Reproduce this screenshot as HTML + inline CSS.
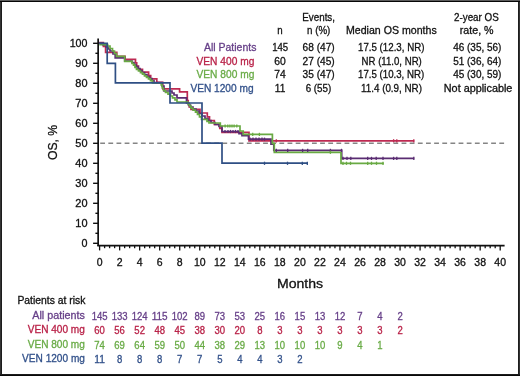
<!DOCTYPE html>
<html><head><meta charset="utf-8"><style>
html,body{margin:0;padding:0;background:#fff;}
#w{position:relative;width:520px;height:376px;overflow:hidden;background:#fff;}
#w svg{position:absolute;left:0;top:0;will-change:transform;}
#w text{font-family:"Liberation Sans", sans-serif;}
</style></head><body><div id="w">
<svg width="520" height="376" viewBox="0 0 520 376">
<text x="302.30" y="20.60" font-size="10.5" fill="#111111" stroke="#111111" stroke-width="0.3" text-anchor="start" textLength="32.70" lengthAdjust="spacingAndGlyphs">Events,</text>
<text x="454.00" y="20.60" font-size="10.5" fill="#111111" stroke="#111111" stroke-width="0.3" text-anchor="start" textLength="44.80" lengthAdjust="spacingAndGlyphs">2-year OS</text>
<text x="277.30" y="34.00" font-size="10.5" fill="#111111" stroke="#111111" stroke-width="0.3" text-anchor="start" textLength="5.40" lengthAdjust="spacingAndGlyphs">n</text>
<text x="307.00" y="34.00" font-size="10.5" fill="#111111" stroke="#111111" stroke-width="0.3" text-anchor="start" textLength="23.30" lengthAdjust="spacingAndGlyphs">n (%)</text>
<text x="346.00" y="34.00" font-size="10.5" fill="#111111" stroke="#111111" stroke-width="0.3" text-anchor="start" textLength="90.70" lengthAdjust="spacingAndGlyphs">Median OS months</text>
<text x="459.80" y="33.80" font-size="10.5" fill="#111111" stroke="#111111" stroke-width="0.3" text-anchor="start" textLength="33.80" lengthAdjust="spacingAndGlyphs">rate, %</text>
<text x="204.00" y="51.30" font-size="10.5" fill="#663f88" stroke="#663f88" stroke-width="0.3" text-anchor="start" textLength="52.40" lengthAdjust="spacingAndGlyphs">All Patients</text>
<text x="196.50" y="64.80" font-size="10.5" fill="#b92248" stroke="#b92248" stroke-width="0.3" text-anchor="start" textLength="57.80" lengthAdjust="spacingAndGlyphs">VEN 400 mg</text>
<text x="196.50" y="78.40" font-size="10.5" fill="#69ab46" stroke="#69ab46" stroke-width="0.3" text-anchor="start" textLength="57.80" lengthAdjust="spacingAndGlyphs">VEN 800 mg</text>
<text x="190.40" y="91.90" font-size="10.5" fill="#32518a" stroke="#32518a" stroke-width="0.3" text-anchor="start" textLength="63.20" lengthAdjust="spacingAndGlyphs">VEN 1200 mg</text>
<text x="272.20" y="51.30" font-size="10.5" fill="#111111" stroke="#111111" stroke-width="0.3" text-anchor="start" textLength="16.00" lengthAdjust="spacingAndGlyphs">145</text>
<text x="274.30" y="64.80" font-size="10.5" fill="#111111" stroke="#111111" stroke-width="0.3" text-anchor="start" textLength="11.50" lengthAdjust="spacingAndGlyphs">60</text>
<text x="274.30" y="78.40" font-size="10.5" fill="#111111" stroke="#111111" stroke-width="0.3" text-anchor="start" textLength="11.50" lengthAdjust="spacingAndGlyphs">74</text>
<text x="274.80" y="91.90" font-size="10.5" fill="#111111" stroke="#111111" stroke-width="0.3" text-anchor="start" textLength="10.50" lengthAdjust="spacingAndGlyphs">11</text>
<text x="302.60" y="51.30" font-size="10.5" fill="#111111" stroke="#111111" stroke-width="0.3" text-anchor="start" textLength="32.10" lengthAdjust="spacingAndGlyphs">68 (47)</text>
<text x="302.60" y="64.80" font-size="10.5" fill="#111111" stroke="#111111" stroke-width="0.3" text-anchor="start" textLength="32.10" lengthAdjust="spacingAndGlyphs">27 (45)</text>
<text x="302.60" y="78.40" font-size="10.5" fill="#111111" stroke="#111111" stroke-width="0.3" text-anchor="start" textLength="32.10" lengthAdjust="spacingAndGlyphs">35 (47)</text>
<text x="305.70" y="91.90" font-size="10.5" fill="#111111" stroke="#111111" stroke-width="0.3" text-anchor="start" textLength="25.60" lengthAdjust="spacingAndGlyphs">6 (55)</text>
<text x="358.00" y="51.30" font-size="10.5" fill="#111111" stroke="#111111" stroke-width="0.3" text-anchor="start" textLength="66.40" lengthAdjust="spacingAndGlyphs">17.5 (12.3, NR)</text>
<text x="361.60" y="64.80" font-size="10.5" fill="#111111" stroke="#111111" stroke-width="0.3" text-anchor="start" textLength="60.20" lengthAdjust="spacingAndGlyphs">NR (11.0, NR)</text>
<text x="358.00" y="78.40" font-size="10.5" fill="#111111" stroke="#111111" stroke-width="0.3" text-anchor="start" textLength="66.20" lengthAdjust="spacingAndGlyphs">17.5 (10.3, NR)</text>
<text x="361.00" y="91.90" font-size="10.5" fill="#111111" stroke="#111111" stroke-width="0.3" text-anchor="start" textLength="61.00" lengthAdjust="spacingAndGlyphs">11.4 (0.9, NR)</text>
<text x="453.20" y="51.30" font-size="10.5" fill="#111111" stroke="#111111" stroke-width="0.3" text-anchor="start" textLength="48.20" lengthAdjust="spacingAndGlyphs">46 (35, 56)</text>
<text x="453.20" y="64.80" font-size="10.5" fill="#111111" stroke="#111111" stroke-width="0.3" text-anchor="start" textLength="48.20" lengthAdjust="spacingAndGlyphs">51 (36, 64)</text>
<text x="453.20" y="78.40" font-size="10.5" fill="#111111" stroke="#111111" stroke-width="0.3" text-anchor="start" textLength="48.20" lengthAdjust="spacingAndGlyphs">45 (30, 59)</text>
<text x="443.80" y="91.90" font-size="10.5" fill="#111111" stroke="#111111" stroke-width="0.3" text-anchor="start" textLength="68.60" lengthAdjust="spacingAndGlyphs">Not applicable</text>
<line x1="98.15" y1="38.4" x2="98.15" y2="246.1" stroke="#111111" stroke-width="1.7"/>
<line x1="97.3" y1="245.6" x2="504.6" y2="245.6" stroke="#111111" stroke-width="1.7"/>
<line x1="93.1" y1="243.30" x2="98" y2="243.30" stroke="#111111" stroke-width="1.4"/>
<text x="81.50" y="246.70" font-size="10.5" fill="#111111" stroke="#111111" stroke-width="0.3" text-anchor="start" textLength="6.00" lengthAdjust="spacingAndGlyphs">0</text>
<line x1="95.4" y1="233.30" x2="98" y2="233.30" stroke="#111111" stroke-width="1.4"/>
<line x1="93.1" y1="223.30" x2="98" y2="223.30" stroke="#111111" stroke-width="1.4"/>
<text x="75.30" y="226.70" font-size="10.5" fill="#111111" stroke="#111111" stroke-width="0.3" text-anchor="start" textLength="12.20" lengthAdjust="spacingAndGlyphs">10</text>
<line x1="95.4" y1="213.30" x2="98" y2="213.30" stroke="#111111" stroke-width="1.4"/>
<line x1="93.1" y1="203.30" x2="98" y2="203.30" stroke="#111111" stroke-width="1.4"/>
<text x="75.30" y="206.70" font-size="10.5" fill="#111111" stroke="#111111" stroke-width="0.3" text-anchor="start" textLength="12.20" lengthAdjust="spacingAndGlyphs">20</text>
<line x1="95.4" y1="193.30" x2="98" y2="193.30" stroke="#111111" stroke-width="1.4"/>
<line x1="93.1" y1="183.30" x2="98" y2="183.30" stroke="#111111" stroke-width="1.4"/>
<text x="75.30" y="186.70" font-size="10.5" fill="#111111" stroke="#111111" stroke-width="0.3" text-anchor="start" textLength="12.20" lengthAdjust="spacingAndGlyphs">30</text>
<line x1="95.4" y1="173.30" x2="98" y2="173.30" stroke="#111111" stroke-width="1.4"/>
<line x1="93.1" y1="163.30" x2="98" y2="163.30" stroke="#111111" stroke-width="1.4"/>
<text x="75.30" y="166.70" font-size="10.5" fill="#111111" stroke="#111111" stroke-width="0.3" text-anchor="start" textLength="12.20" lengthAdjust="spacingAndGlyphs">40</text>
<line x1="95.4" y1="153.30" x2="98" y2="153.30" stroke="#111111" stroke-width="1.4"/>
<line x1="93.1" y1="143.30" x2="98" y2="143.30" stroke="#111111" stroke-width="1.4"/>
<text x="75.30" y="146.70" font-size="10.5" fill="#111111" stroke="#111111" stroke-width="0.3" text-anchor="start" textLength="12.20" lengthAdjust="spacingAndGlyphs">50</text>
<line x1="95.4" y1="133.30" x2="98" y2="133.30" stroke="#111111" stroke-width="1.4"/>
<line x1="93.1" y1="123.30" x2="98" y2="123.30" stroke="#111111" stroke-width="1.4"/>
<text x="75.30" y="126.70" font-size="10.5" fill="#111111" stroke="#111111" stroke-width="0.3" text-anchor="start" textLength="12.20" lengthAdjust="spacingAndGlyphs">60</text>
<line x1="95.4" y1="113.30" x2="98" y2="113.30" stroke="#111111" stroke-width="1.4"/>
<line x1="93.1" y1="103.30" x2="98" y2="103.30" stroke="#111111" stroke-width="1.4"/>
<text x="75.30" y="106.70" font-size="10.5" fill="#111111" stroke="#111111" stroke-width="0.3" text-anchor="start" textLength="12.20" lengthAdjust="spacingAndGlyphs">70</text>
<line x1="95.4" y1="93.30" x2="98" y2="93.30" stroke="#111111" stroke-width="1.4"/>
<line x1="93.1" y1="83.30" x2="98" y2="83.30" stroke="#111111" stroke-width="1.4"/>
<text x="75.30" y="86.70" font-size="10.5" fill="#111111" stroke="#111111" stroke-width="0.3" text-anchor="start" textLength="12.20" lengthAdjust="spacingAndGlyphs">80</text>
<line x1="95.4" y1="73.30" x2="98" y2="73.30" stroke="#111111" stroke-width="1.4"/>
<line x1="93.1" y1="63.30" x2="98" y2="63.30" stroke="#111111" stroke-width="1.4"/>
<text x="75.30" y="66.70" font-size="10.5" fill="#111111" stroke="#111111" stroke-width="0.3" text-anchor="start" textLength="12.20" lengthAdjust="spacingAndGlyphs">90</text>
<line x1="95.4" y1="53.30" x2="98" y2="53.30" stroke="#111111" stroke-width="1.4"/>
<line x1="93.1" y1="43.30" x2="98" y2="43.30" stroke="#111111" stroke-width="1.4"/>
<text x="69.70" y="46.70" font-size="10.5" fill="#111111" stroke="#111111" stroke-width="0.3" text-anchor="start" textLength="17.80" lengthAdjust="spacingAndGlyphs">100</text>
<line x1="99.60" y1="245" x2="99.60" y2="250.4" stroke="#111111" stroke-width="1.3"/>
<text x="99.60" y="265.90" font-size="10.5" fill="#111111" stroke="#111111" stroke-width="0.3" text-anchor="middle">0</text>
<line x1="104.61" y1="245" x2="104.61" y2="248.2" stroke="#111111" stroke-width="1.3"/>
<line x1="109.61" y1="245" x2="109.61" y2="248.2" stroke="#111111" stroke-width="1.3"/>
<line x1="114.62" y1="245" x2="114.62" y2="248.2" stroke="#111111" stroke-width="1.3"/>
<line x1="119.63" y1="245" x2="119.63" y2="250.4" stroke="#111111" stroke-width="1.3"/>
<text x="119.63" y="265.90" font-size="10.5" fill="#111111" stroke="#111111" stroke-width="0.3" text-anchor="middle">2</text>
<line x1="124.64" y1="245" x2="124.64" y2="248.2" stroke="#111111" stroke-width="1.3"/>
<line x1="129.64" y1="245" x2="129.64" y2="248.2" stroke="#111111" stroke-width="1.3"/>
<line x1="134.65" y1="245" x2="134.65" y2="248.2" stroke="#111111" stroke-width="1.3"/>
<line x1="139.66" y1="245" x2="139.66" y2="250.4" stroke="#111111" stroke-width="1.3"/>
<text x="139.66" y="265.90" font-size="10.5" fill="#111111" stroke="#111111" stroke-width="0.3" text-anchor="middle">4</text>
<line x1="144.67" y1="245" x2="144.67" y2="248.2" stroke="#111111" stroke-width="1.3"/>
<line x1="149.68" y1="245" x2="149.68" y2="248.2" stroke="#111111" stroke-width="1.3"/>
<line x1="154.68" y1="245" x2="154.68" y2="248.2" stroke="#111111" stroke-width="1.3"/>
<line x1="159.69" y1="245" x2="159.69" y2="250.4" stroke="#111111" stroke-width="1.3"/>
<text x="159.69" y="265.90" font-size="10.5" fill="#111111" stroke="#111111" stroke-width="0.3" text-anchor="middle">6</text>
<line x1="164.70" y1="245" x2="164.70" y2="248.2" stroke="#111111" stroke-width="1.3"/>
<line x1="169.70" y1="245" x2="169.70" y2="248.2" stroke="#111111" stroke-width="1.3"/>
<line x1="174.71" y1="245" x2="174.71" y2="248.2" stroke="#111111" stroke-width="1.3"/>
<line x1="179.72" y1="245" x2="179.72" y2="250.4" stroke="#111111" stroke-width="1.3"/>
<text x="179.72" y="265.90" font-size="10.5" fill="#111111" stroke="#111111" stroke-width="0.3" text-anchor="middle">8</text>
<line x1="184.73" y1="245" x2="184.73" y2="248.2" stroke="#111111" stroke-width="1.3"/>
<line x1="189.74" y1="245" x2="189.74" y2="248.2" stroke="#111111" stroke-width="1.3"/>
<line x1="194.74" y1="245" x2="194.74" y2="248.2" stroke="#111111" stroke-width="1.3"/>
<line x1="199.75" y1="245" x2="199.75" y2="250.4" stroke="#111111" stroke-width="1.3"/>
<text x="199.75" y="265.90" font-size="10.5" fill="#111111" stroke="#111111" stroke-width="0.3" text-anchor="middle">10</text>
<line x1="204.76" y1="245" x2="204.76" y2="248.2" stroke="#111111" stroke-width="1.3"/>
<line x1="209.76" y1="245" x2="209.76" y2="248.2" stroke="#111111" stroke-width="1.3"/>
<line x1="214.77" y1="245" x2="214.77" y2="248.2" stroke="#111111" stroke-width="1.3"/>
<line x1="219.78" y1="245" x2="219.78" y2="250.4" stroke="#111111" stroke-width="1.3"/>
<text x="219.78" y="265.90" font-size="10.5" fill="#111111" stroke="#111111" stroke-width="0.3" text-anchor="middle">12</text>
<line x1="224.79" y1="245" x2="224.79" y2="248.2" stroke="#111111" stroke-width="1.3"/>
<line x1="229.79" y1="245" x2="229.79" y2="248.2" stroke="#111111" stroke-width="1.3"/>
<line x1="234.80" y1="245" x2="234.80" y2="248.2" stroke="#111111" stroke-width="1.3"/>
<line x1="239.81" y1="245" x2="239.81" y2="250.4" stroke="#111111" stroke-width="1.3"/>
<text x="239.81" y="265.90" font-size="10.5" fill="#111111" stroke="#111111" stroke-width="0.3" text-anchor="middle">14</text>
<line x1="244.82" y1="245" x2="244.82" y2="248.2" stroke="#111111" stroke-width="1.3"/>
<line x1="249.83" y1="245" x2="249.83" y2="248.2" stroke="#111111" stroke-width="1.3"/>
<line x1="254.83" y1="245" x2="254.83" y2="248.2" stroke="#111111" stroke-width="1.3"/>
<line x1="259.84" y1="245" x2="259.84" y2="250.4" stroke="#111111" stroke-width="1.3"/>
<text x="259.84" y="265.90" font-size="10.5" fill="#111111" stroke="#111111" stroke-width="0.3" text-anchor="middle">16</text>
<line x1="264.85" y1="245" x2="264.85" y2="248.2" stroke="#111111" stroke-width="1.3"/>
<line x1="269.86" y1="245" x2="269.86" y2="248.2" stroke="#111111" stroke-width="1.3"/>
<line x1="274.86" y1="245" x2="274.86" y2="248.2" stroke="#111111" stroke-width="1.3"/>
<line x1="279.87" y1="245" x2="279.87" y2="250.4" stroke="#111111" stroke-width="1.3"/>
<text x="279.87" y="265.90" font-size="10.5" fill="#111111" stroke="#111111" stroke-width="0.3" text-anchor="middle">18</text>
<line x1="284.88" y1="245" x2="284.88" y2="248.2" stroke="#111111" stroke-width="1.3"/>
<line x1="289.88" y1="245" x2="289.88" y2="248.2" stroke="#111111" stroke-width="1.3"/>
<line x1="294.89" y1="245" x2="294.89" y2="248.2" stroke="#111111" stroke-width="1.3"/>
<line x1="299.90" y1="245" x2="299.90" y2="250.4" stroke="#111111" stroke-width="1.3"/>
<text x="299.90" y="265.90" font-size="10.5" fill="#111111" stroke="#111111" stroke-width="0.3" text-anchor="middle">20</text>
<line x1="304.91" y1="245" x2="304.91" y2="248.2" stroke="#111111" stroke-width="1.3"/>
<line x1="309.91" y1="245" x2="309.91" y2="248.2" stroke="#111111" stroke-width="1.3"/>
<line x1="314.92" y1="245" x2="314.92" y2="248.2" stroke="#111111" stroke-width="1.3"/>
<line x1="319.93" y1="245" x2="319.93" y2="250.4" stroke="#111111" stroke-width="1.3"/>
<text x="319.93" y="265.90" font-size="10.5" fill="#111111" stroke="#111111" stroke-width="0.3" text-anchor="middle">22</text>
<line x1="324.94" y1="245" x2="324.94" y2="248.2" stroke="#111111" stroke-width="1.3"/>
<line x1="329.95" y1="245" x2="329.95" y2="248.2" stroke="#111111" stroke-width="1.3"/>
<line x1="334.95" y1="245" x2="334.95" y2="248.2" stroke="#111111" stroke-width="1.3"/>
<line x1="339.96" y1="245" x2="339.96" y2="250.4" stroke="#111111" stroke-width="1.3"/>
<text x="339.96" y="265.90" font-size="10.5" fill="#111111" stroke="#111111" stroke-width="0.3" text-anchor="middle">24</text>
<line x1="344.97" y1="245" x2="344.97" y2="248.2" stroke="#111111" stroke-width="1.3"/>
<line x1="349.98" y1="245" x2="349.98" y2="248.2" stroke="#111111" stroke-width="1.3"/>
<line x1="354.98" y1="245" x2="354.98" y2="248.2" stroke="#111111" stroke-width="1.3"/>
<line x1="359.99" y1="245" x2="359.99" y2="250.4" stroke="#111111" stroke-width="1.3"/>
<text x="359.99" y="265.90" font-size="10.5" fill="#111111" stroke="#111111" stroke-width="0.3" text-anchor="middle">26</text>
<line x1="365.00" y1="245" x2="365.00" y2="248.2" stroke="#111111" stroke-width="1.3"/>
<line x1="370.00" y1="245" x2="370.00" y2="248.2" stroke="#111111" stroke-width="1.3"/>
<line x1="375.01" y1="245" x2="375.01" y2="248.2" stroke="#111111" stroke-width="1.3"/>
<line x1="380.02" y1="245" x2="380.02" y2="250.4" stroke="#111111" stroke-width="1.3"/>
<text x="380.02" y="265.90" font-size="10.5" fill="#111111" stroke="#111111" stroke-width="0.3" text-anchor="middle">28</text>
<line x1="385.03" y1="245" x2="385.03" y2="248.2" stroke="#111111" stroke-width="1.3"/>
<line x1="390.03" y1="245" x2="390.03" y2="248.2" stroke="#111111" stroke-width="1.3"/>
<line x1="395.04" y1="245" x2="395.04" y2="248.2" stroke="#111111" stroke-width="1.3"/>
<line x1="400.05" y1="245" x2="400.05" y2="250.4" stroke="#111111" stroke-width="1.3"/>
<text x="400.05" y="265.90" font-size="10.5" fill="#111111" stroke="#111111" stroke-width="0.3" text-anchor="middle">30</text>
<line x1="405.06" y1="245" x2="405.06" y2="248.2" stroke="#111111" stroke-width="1.3"/>
<line x1="410.07" y1="245" x2="410.07" y2="248.2" stroke="#111111" stroke-width="1.3"/>
<line x1="415.07" y1="245" x2="415.07" y2="248.2" stroke="#111111" stroke-width="1.3"/>
<line x1="420.08" y1="245" x2="420.08" y2="250.4" stroke="#111111" stroke-width="1.3"/>
<text x="420.08" y="265.90" font-size="10.5" fill="#111111" stroke="#111111" stroke-width="0.3" text-anchor="middle">32</text>
<line x1="425.09" y1="245" x2="425.09" y2="248.2" stroke="#111111" stroke-width="1.3"/>
<line x1="430.10" y1="245" x2="430.10" y2="248.2" stroke="#111111" stroke-width="1.3"/>
<line x1="435.10" y1="245" x2="435.10" y2="248.2" stroke="#111111" stroke-width="1.3"/>
<line x1="440.11" y1="245" x2="440.11" y2="250.4" stroke="#111111" stroke-width="1.3"/>
<text x="440.11" y="265.90" font-size="10.5" fill="#111111" stroke="#111111" stroke-width="0.3" text-anchor="middle">34</text>
<line x1="445.12" y1="245" x2="445.12" y2="248.2" stroke="#111111" stroke-width="1.3"/>
<line x1="450.12" y1="245" x2="450.12" y2="248.2" stroke="#111111" stroke-width="1.3"/>
<line x1="455.13" y1="245" x2="455.13" y2="248.2" stroke="#111111" stroke-width="1.3"/>
<line x1="460.14" y1="245" x2="460.14" y2="250.4" stroke="#111111" stroke-width="1.3"/>
<text x="460.14" y="265.90" font-size="10.5" fill="#111111" stroke="#111111" stroke-width="0.3" text-anchor="middle">36</text>
<line x1="465.15" y1="245" x2="465.15" y2="248.2" stroke="#111111" stroke-width="1.3"/>
<line x1="470.15" y1="245" x2="470.15" y2="248.2" stroke="#111111" stroke-width="1.3"/>
<line x1="475.16" y1="245" x2="475.16" y2="248.2" stroke="#111111" stroke-width="1.3"/>
<line x1="480.17" y1="245" x2="480.17" y2="250.4" stroke="#111111" stroke-width="1.3"/>
<text x="480.17" y="265.90" font-size="10.5" fill="#111111" stroke="#111111" stroke-width="0.3" text-anchor="middle">38</text>
<line x1="485.18" y1="245" x2="485.18" y2="248.2" stroke="#111111" stroke-width="1.3"/>
<line x1="490.19" y1="245" x2="490.19" y2="248.2" stroke="#111111" stroke-width="1.3"/>
<line x1="495.19" y1="245" x2="495.19" y2="248.2" stroke="#111111" stroke-width="1.3"/>
<line x1="500.20" y1="245" x2="500.20" y2="250.4" stroke="#111111" stroke-width="1.3"/>
<text x="500.20" y="265.90" font-size="10.5" fill="#111111" stroke="#111111" stroke-width="0.3" text-anchor="middle">40</text>
<text x="276.90" y="288.00" font-size="13.6" fill="#111111" stroke="#111111" stroke-width="0.3" text-anchor="start" textLength="46.20" lengthAdjust="spacingAndGlyphs">Months</text>
<text x="0" y="0" font-size="13.4" fill="#111111" stroke="#111111" stroke-width="0.3" textLength="35.2" lengthAdjust="spacingAndGlyphs" transform="translate(56.5 160.0) rotate(-90)">OS, %</text>
<line x1="100.2" y1="143.3" x2="505" y2="143.3" stroke="#858585" stroke-width="1.4" stroke-dasharray="4.8 3.345"/>
<path d="M99.20 42.50 L103.40 42.50 L103.40 46.30 L105.60 46.30 L105.60 52.40 L116.80 52.40 L116.80 56.40 L125.10 56.40 L125.10 59.30 L135.50 59.30 L135.50 62.80 L136.70 62.80 L136.70 66.00 L138.50 66.00 L138.50 69.30 L142.50 69.30 L142.50 72.10 L148.60 72.10 L148.60 75.60 L150.70 75.60 L150.70 78.90 L156.80 78.90 L156.80 82.40 L162.80 82.40 L162.80 88.80 L179.60 88.80 L179.60 91.80 L187.30 91.80 L187.30 100.50 L188.20 100.50 L188.20 103.50 L189.20 103.50 L189.20 107.00 L191.00 107.00 L191.00 109.40 L200.00 109.40 L200.00 113.00 L207.30 113.00 L207.30 116.80 L209.50 116.80 L209.50 120.50 L214.30 120.50 L214.30 124.40 L219.80 124.40 L219.80 128.30 L222.00 128.30 L222.00 132.30 L249.00 132.30 L249.00 140.80 L414.30 140.80 L414.30 140.80" fill="none" stroke="#bd2a52" stroke-width="1.7" stroke-linejoin="miter"/>
<path d="M99.20 43.00 L103.00 43.00 L103.00 45.00 L106.00 45.00 L106.00 47.00 L108.00 47.00 L108.00 49.00 L110.00 49.00 L110.00 51.00 L113.00 51.00 L113.00 54.00 L115.20 54.00 L115.20 57.90 L124.70 57.90 L124.70 61.00 L132.00 61.00 L132.00 62.50 L134.00 62.50 L134.00 64.50 L136.00 64.50 L136.00 66.50 L138.00 66.50 L138.00 68.50 L140.00 68.50 L140.00 70.50 L142.00 70.50 L142.00 72.50 L144.50 72.50 L144.50 74.50 L147.00 74.50 L147.00 76.50 L149.50 76.50 L149.50 78.50 L152.00 78.50 L152.00 80.50 L154.00 80.50 L154.00 82.60 L162.00 82.60 L162.00 86.00 L164.00 86.00 L164.00 91.00 L172.00 91.00 L172.00 93.00 L174.00 93.00 L174.00 95.00 L177.00 95.00 L177.00 97.90 L186.50 97.90 L186.50 103.00 L188.50 103.00 L188.50 105.00 L190.50 105.00 L190.50 107.00 L193.00 107.00 L193.00 109.00 L196.00 109.00 L196.00 111.00 L199.00 111.00 L199.00 113.50 L202.00 113.50 L202.00 116.00 L205.00 116.00 L205.00 118.50 L208.00 118.50 L208.00 120.50 L211.00 120.50 L211.00 122.50 L215.00 122.50 L215.00 124.50 L219.00 124.50 L219.00 126.50 L222.00 126.50 L222.00 131.50 L239.00 131.50 L239.00 133.60 L242.00 133.60 L242.00 135.70 L248.50 135.70 L248.50 139.20 L271.00 139.20 L271.00 144.20 L273.80 144.20 L273.80 150.40 L341.70 150.40 L341.70 158.40 L414.30 158.40 L414.30 158.40" fill="none" stroke="#5a2c72" stroke-width="1.7" stroke-linejoin="miter"/>
<path d="M99.20 44.60 L107.60 44.60 L107.60 46.00 L110.00 46.00 L110.00 48.50 L112.50 48.50 L112.50 51.00 L114.50 51.00 L114.50 53.50 L116.50 53.50 L116.50 56.40 L124.70 56.40 L124.70 61.40 L132.00 61.40 L132.00 63.50 L133.50 63.50 L133.50 65.20 L135.00 65.20 L135.00 67.50 L136.50 67.50 L136.50 69.50 L138.50 69.50 L138.50 71.00 L140.50 71.00 L140.50 72.60 L142.50 72.60 L142.50 74.20 L144.50 74.20 L144.50 75.80 L146.50 75.80 L146.50 77.40 L148.50 77.40 L148.50 78.90 L150.50 78.90 L150.50 80.60 L152.50 80.60 L152.50 82.80 L161.20 82.80 L161.20 85.00 L162.20 85.00 L162.20 88.00 L163.50 88.00 L163.50 90.50 L165.50 90.50 L165.50 92.50 L168.00 92.50 L168.00 94.20 L170.50 94.20 L170.50 96.00 L172.50 96.00 L172.50 97.80 L175.00 97.80 L175.00 99.80 L177.00 99.80 L177.00 102.00 L188.00 102.00 L188.00 104.00 L189.50 104.00 L189.50 106.00 L191.00 106.00 L191.00 108.20 L193.00 108.20 L193.00 110.20 L195.50 110.20 L195.50 112.20 L197.50 112.20 L197.50 114.50 L199.50 114.50 L199.50 116.80 L201.50 116.80 L201.50 119.30 L207.00 119.30 L207.00 121.50 L209.00 121.50 L209.00 123.00 L220.30 123.00 L220.30 126.00 L240.00 126.00 L240.00 131.00 L243.20 131.00 L243.20 134.40 L272.40 134.40 L272.40 143.30 L274.30 143.30 L274.30 152.30 L341.00 152.30 L341.00 163.30 L383.80 163.30 L383.80 163.30" fill="none" stroke="#69aa43" stroke-width="1.7" stroke-linejoin="miter"/>
<path d="M99.20 43.40 L107.20 43.40 L107.20 63.30 L115.40 63.30 L115.40 82.90 L170.00 82.90 L170.00 103.00 L202.00 103.00 L202.00 143.20 L222.00 143.20 L222.00 163.10 L308.00 163.10 L308.00 163.10" fill="none" stroke="#2f4f84" stroke-width="1.7" stroke-linejoin="miter"/>
<line x1="225.00" y1="129.90" x2="225.00" y2="133.10" stroke="#5a2c72" stroke-width="1.3"/>
<line x1="228.00" y1="129.90" x2="228.00" y2="133.10" stroke="#5a2c72" stroke-width="1.3"/>
<line x1="230.50" y1="129.90" x2="230.50" y2="133.10" stroke="#5a2c72" stroke-width="1.3"/>
<line x1="233.00" y1="129.90" x2="233.00" y2="133.10" stroke="#5a2c72" stroke-width="1.3"/>
<line x1="235.50" y1="129.90" x2="235.50" y2="133.10" stroke="#5a2c72" stroke-width="1.3"/>
<line x1="238.00" y1="129.90" x2="238.00" y2="133.10" stroke="#5a2c72" stroke-width="1.3"/>
<line x1="250.00" y1="137.60" x2="250.00" y2="140.80" stroke="#5a2c72" stroke-width="1.3"/>
<line x1="253.00" y1="137.60" x2="253.00" y2="140.80" stroke="#5a2c72" stroke-width="1.3"/>
<line x1="256.00" y1="137.60" x2="256.00" y2="140.80" stroke="#5a2c72" stroke-width="1.3"/>
<line x1="259.00" y1="137.60" x2="259.00" y2="140.80" stroke="#5a2c72" stroke-width="1.3"/>
<line x1="262.00" y1="137.60" x2="262.00" y2="140.80" stroke="#5a2c72" stroke-width="1.3"/>
<line x1="264.50" y1="137.60" x2="264.50" y2="140.80" stroke="#5a2c72" stroke-width="1.3"/>
<line x1="276.30" y1="148.80" x2="276.30" y2="152.00" stroke="#5a2c72" stroke-width="1.3"/>
<line x1="287.70" y1="148.80" x2="287.70" y2="152.00" stroke="#5a2c72" stroke-width="1.3"/>
<line x1="302.60" y1="148.80" x2="302.60" y2="152.00" stroke="#5a2c72" stroke-width="1.3"/>
<line x1="307.70" y1="148.80" x2="307.70" y2="152.00" stroke="#5a2c72" stroke-width="1.3"/>
<line x1="330.40" y1="148.80" x2="330.40" y2="152.00" stroke="#5a2c72" stroke-width="1.3"/>
<line x1="341.50" y1="148.80" x2="341.50" y2="152.00" stroke="#5a2c72" stroke-width="1.3"/>
<line x1="343.00" y1="156.80" x2="343.00" y2="160.00" stroke="#5a2c72" stroke-width="1.3"/>
<line x1="347.00" y1="156.80" x2="347.00" y2="160.00" stroke="#5a2c72" stroke-width="1.3"/>
<line x1="350.80" y1="156.80" x2="350.80" y2="160.00" stroke="#5a2c72" stroke-width="1.3"/>
<line x1="367.70" y1="156.80" x2="367.70" y2="160.00" stroke="#5a2c72" stroke-width="1.3"/>
<line x1="371.50" y1="156.80" x2="371.50" y2="160.00" stroke="#5a2c72" stroke-width="1.3"/>
<line x1="376.20" y1="156.80" x2="376.20" y2="160.00" stroke="#5a2c72" stroke-width="1.3"/>
<line x1="383.00" y1="156.80" x2="383.00" y2="160.00" stroke="#5a2c72" stroke-width="1.3"/>
<line x1="393.60" y1="156.80" x2="393.60" y2="160.00" stroke="#5a2c72" stroke-width="1.3"/>
<line x1="396.80" y1="156.80" x2="396.80" y2="160.00" stroke="#5a2c72" stroke-width="1.3"/>
<line x1="413.80" y1="156.80" x2="413.80" y2="160.00" stroke="#5a2c72" stroke-width="1.3"/>
<line x1="276.30" y1="139.20" x2="276.30" y2="142.40" stroke="#bd2a52" stroke-width="1.3"/>
<line x1="393.60" y1="139.20" x2="393.60" y2="142.40" stroke="#bd2a52" stroke-width="1.3"/>
<line x1="396.80" y1="139.20" x2="396.80" y2="142.40" stroke="#bd2a52" stroke-width="1.3"/>
<line x1="413.80" y1="139.20" x2="413.80" y2="142.40" stroke="#bd2a52" stroke-width="1.3"/>
<line x1="225.10" y1="124.40" x2="225.10" y2="127.60" stroke="#69aa43" stroke-width="1.3"/>
<line x1="227.80" y1="124.40" x2="227.80" y2="127.60" stroke="#69aa43" stroke-width="1.3"/>
<line x1="229.90" y1="124.40" x2="229.90" y2="127.60" stroke="#69aa43" stroke-width="1.3"/>
<line x1="232.00" y1="124.40" x2="232.00" y2="127.60" stroke="#69aa43" stroke-width="1.3"/>
<line x1="234.10" y1="124.40" x2="234.10" y2="127.60" stroke="#69aa43" stroke-width="1.3"/>
<line x1="236.80" y1="124.40" x2="236.80" y2="127.60" stroke="#69aa43" stroke-width="1.3"/>
<line x1="252.70" y1="132.80" x2="252.70" y2="136.00" stroke="#69aa43" stroke-width="1.3"/>
<line x1="259.40" y1="132.80" x2="259.40" y2="136.00" stroke="#69aa43" stroke-width="1.3"/>
<line x1="330.40" y1="150.70" x2="330.40" y2="153.90" stroke="#69aa43" stroke-width="1.3"/>
<line x1="343.00" y1="161.70" x2="343.00" y2="164.90" stroke="#69aa43" stroke-width="1.3"/>
<line x1="346.50" y1="161.70" x2="346.50" y2="164.90" stroke="#69aa43" stroke-width="1.3"/>
<line x1="350.50" y1="161.70" x2="350.50" y2="164.90" stroke="#69aa43" stroke-width="1.3"/>
<line x1="367.70" y1="161.70" x2="367.70" y2="164.90" stroke="#69aa43" stroke-width="1.3"/>
<line x1="371.50" y1="161.70" x2="371.50" y2="164.90" stroke="#69aa43" stroke-width="1.3"/>
<line x1="376.50" y1="161.70" x2="376.50" y2="164.90" stroke="#69aa43" stroke-width="1.3"/>
<line x1="383.00" y1="161.70" x2="383.00" y2="164.90" stroke="#69aa43" stroke-width="1.3"/>
<line x1="264.50" y1="161.70" x2="264.50" y2="164.90" stroke="#2f4f84" stroke-width="1.3"/>
<line x1="287.50" y1="161.70" x2="287.50" y2="164.90" stroke="#2f4f84" stroke-width="1.3"/>
<line x1="302.30" y1="161.70" x2="302.30" y2="164.90" stroke="#2f4f84" stroke-width="1.3"/>
<line x1="307.30" y1="161.70" x2="307.30" y2="164.90" stroke="#2f4f84" stroke-width="1.3"/>
<text x="17.40" y="303.90" font-size="10.5" fill="#111111" stroke="#111111" stroke-width="0.3" text-anchor="start" textLength="68.10" lengthAdjust="spacingAndGlyphs">Patients at risk</text>
<text x="32.30" y="319.00" font-size="10.5" fill="#663f88" stroke="#663f88" stroke-width="0.3" text-anchor="start" textLength="52.60" lengthAdjust="spacingAndGlyphs">All patients</text>
<text x="27.70" y="333.30" font-size="10.5" fill="#b92248" stroke="#b92248" stroke-width="0.3" text-anchor="start" textLength="57.20" lengthAdjust="spacingAndGlyphs">VEN 400 mg</text>
<text x="27.70" y="347.60" font-size="10.5" fill="#69ab46" stroke="#69ab46" stroke-width="0.3" text-anchor="start" textLength="57.20" lengthAdjust="spacingAndGlyphs">VEN 800 mg</text>
<text x="22.10" y="362.00" font-size="10.5" fill="#32518a" stroke="#32518a" stroke-width="0.3" text-anchor="start" textLength="62.80" lengthAdjust="spacingAndGlyphs">VEN 1200 mg</text>
<text x="91.65" y="319.60" font-size="10.2" fill="#663f88" stroke="#663f88" stroke-width="0.3" text-anchor="start" textLength="15.90" lengthAdjust="spacingAndGlyphs">145</text>
<text x="111.68" y="319.60" font-size="10.2" fill="#663f88" stroke="#663f88" stroke-width="0.3" text-anchor="start" textLength="15.90" lengthAdjust="spacingAndGlyphs">133</text>
<text x="131.71" y="319.60" font-size="10.2" fill="#663f88" stroke="#663f88" stroke-width="0.3" text-anchor="start" textLength="15.90" lengthAdjust="spacingAndGlyphs">124</text>
<text x="151.74" y="319.60" font-size="10.2" fill="#663f88" stroke="#663f88" stroke-width="0.3" text-anchor="start" textLength="15.90" lengthAdjust="spacingAndGlyphs">115</text>
<text x="171.77" y="319.60" font-size="10.2" fill="#663f88" stroke="#663f88" stroke-width="0.3" text-anchor="start" textLength="15.90" lengthAdjust="spacingAndGlyphs">102</text>
<text x="194.45" y="319.60" font-size="10.2" fill="#663f88" stroke="#663f88" stroke-width="0.3" text-anchor="start" textLength="10.60" lengthAdjust="spacingAndGlyphs">89</text>
<text x="214.48" y="319.60" font-size="10.2" fill="#663f88" stroke="#663f88" stroke-width="0.3" text-anchor="start" textLength="10.60" lengthAdjust="spacingAndGlyphs">73</text>
<text x="234.51" y="319.60" font-size="10.2" fill="#663f88" stroke="#663f88" stroke-width="0.3" text-anchor="start" textLength="10.60" lengthAdjust="spacingAndGlyphs">53</text>
<text x="254.54" y="319.60" font-size="10.2" fill="#663f88" stroke="#663f88" stroke-width="0.3" text-anchor="start" textLength="10.60" lengthAdjust="spacingAndGlyphs">25</text>
<text x="274.57" y="319.60" font-size="10.2" fill="#663f88" stroke="#663f88" stroke-width="0.3" text-anchor="start" textLength="10.60" lengthAdjust="spacingAndGlyphs">16</text>
<text x="294.60" y="319.60" font-size="10.2" fill="#663f88" stroke="#663f88" stroke-width="0.3" text-anchor="start" textLength="10.60" lengthAdjust="spacingAndGlyphs">15</text>
<text x="314.63" y="319.60" font-size="10.2" fill="#663f88" stroke="#663f88" stroke-width="0.3" text-anchor="start" textLength="10.60" lengthAdjust="spacingAndGlyphs">13</text>
<text x="334.66" y="319.60" font-size="10.2" fill="#663f88" stroke="#663f88" stroke-width="0.3" text-anchor="start" textLength="10.60" lengthAdjust="spacingAndGlyphs">12</text>
<text x="357.34" y="319.60" font-size="10.2" fill="#663f88" stroke="#663f88" stroke-width="0.3" text-anchor="start" textLength="5.30" lengthAdjust="spacingAndGlyphs">7</text>
<text x="377.37" y="319.60" font-size="10.2" fill="#663f88" stroke="#663f88" stroke-width="0.3" text-anchor="start" textLength="5.30" lengthAdjust="spacingAndGlyphs">4</text>
<text x="397.40" y="319.60" font-size="10.2" fill="#663f88" stroke="#663f88" stroke-width="0.3" text-anchor="start" textLength="5.30" lengthAdjust="spacingAndGlyphs">2</text>
<text x="94.30" y="334.00" font-size="10.2" fill="#b92248" stroke="#b92248" stroke-width="0.3" text-anchor="start" textLength="10.60" lengthAdjust="spacingAndGlyphs">60</text>
<text x="114.33" y="334.00" font-size="10.2" fill="#b92248" stroke="#b92248" stroke-width="0.3" text-anchor="start" textLength="10.60" lengthAdjust="spacingAndGlyphs">56</text>
<text x="134.36" y="334.00" font-size="10.2" fill="#b92248" stroke="#b92248" stroke-width="0.3" text-anchor="start" textLength="10.60" lengthAdjust="spacingAndGlyphs">52</text>
<text x="154.39" y="334.00" font-size="10.2" fill="#b92248" stroke="#b92248" stroke-width="0.3" text-anchor="start" textLength="10.60" lengthAdjust="spacingAndGlyphs">48</text>
<text x="174.42" y="334.00" font-size="10.2" fill="#b92248" stroke="#b92248" stroke-width="0.3" text-anchor="start" textLength="10.60" lengthAdjust="spacingAndGlyphs">45</text>
<text x="194.45" y="334.00" font-size="10.2" fill="#b92248" stroke="#b92248" stroke-width="0.3" text-anchor="start" textLength="10.60" lengthAdjust="spacingAndGlyphs">38</text>
<text x="214.48" y="334.00" font-size="10.2" fill="#b92248" stroke="#b92248" stroke-width="0.3" text-anchor="start" textLength="10.60" lengthAdjust="spacingAndGlyphs">30</text>
<text x="234.51" y="334.00" font-size="10.2" fill="#b92248" stroke="#b92248" stroke-width="0.3" text-anchor="start" textLength="10.60" lengthAdjust="spacingAndGlyphs">20</text>
<text x="257.19" y="334.00" font-size="10.2" fill="#b92248" stroke="#b92248" stroke-width="0.3" text-anchor="start" textLength="5.30" lengthAdjust="spacingAndGlyphs">8</text>
<text x="277.22" y="334.00" font-size="10.2" fill="#b92248" stroke="#b92248" stroke-width="0.3" text-anchor="start" textLength="5.30" lengthAdjust="spacingAndGlyphs">3</text>
<text x="297.25" y="334.00" font-size="10.2" fill="#b92248" stroke="#b92248" stroke-width="0.3" text-anchor="start" textLength="5.30" lengthAdjust="spacingAndGlyphs">3</text>
<text x="317.28" y="334.00" font-size="10.2" fill="#b92248" stroke="#b92248" stroke-width="0.3" text-anchor="start" textLength="5.30" lengthAdjust="spacingAndGlyphs">3</text>
<text x="337.31" y="334.00" font-size="10.2" fill="#b92248" stroke="#b92248" stroke-width="0.3" text-anchor="start" textLength="5.30" lengthAdjust="spacingAndGlyphs">3</text>
<text x="357.34" y="334.00" font-size="10.2" fill="#b92248" stroke="#b92248" stroke-width="0.3" text-anchor="start" textLength="5.30" lengthAdjust="spacingAndGlyphs">3</text>
<text x="377.37" y="334.00" font-size="10.2" fill="#b92248" stroke="#b92248" stroke-width="0.3" text-anchor="start" textLength="5.30" lengthAdjust="spacingAndGlyphs">3</text>
<text x="397.40" y="334.00" font-size="10.2" fill="#b92248" stroke="#b92248" stroke-width="0.3" text-anchor="start" textLength="5.30" lengthAdjust="spacingAndGlyphs">2</text>
<text x="94.30" y="348.50" font-size="10.2" fill="#69ab46" stroke="#69ab46" stroke-width="0.3" text-anchor="start" textLength="10.60" lengthAdjust="spacingAndGlyphs">74</text>
<text x="114.33" y="348.50" font-size="10.2" fill="#69ab46" stroke="#69ab46" stroke-width="0.3" text-anchor="start" textLength="10.60" lengthAdjust="spacingAndGlyphs">69</text>
<text x="134.36" y="348.50" font-size="10.2" fill="#69ab46" stroke="#69ab46" stroke-width="0.3" text-anchor="start" textLength="10.60" lengthAdjust="spacingAndGlyphs">64</text>
<text x="154.39" y="348.50" font-size="10.2" fill="#69ab46" stroke="#69ab46" stroke-width="0.3" text-anchor="start" textLength="10.60" lengthAdjust="spacingAndGlyphs">59</text>
<text x="174.42" y="348.50" font-size="10.2" fill="#69ab46" stroke="#69ab46" stroke-width="0.3" text-anchor="start" textLength="10.60" lengthAdjust="spacingAndGlyphs">50</text>
<text x="194.45" y="348.50" font-size="10.2" fill="#69ab46" stroke="#69ab46" stroke-width="0.3" text-anchor="start" textLength="10.60" lengthAdjust="spacingAndGlyphs">44</text>
<text x="214.48" y="348.50" font-size="10.2" fill="#69ab46" stroke="#69ab46" stroke-width="0.3" text-anchor="start" textLength="10.60" lengthAdjust="spacingAndGlyphs">38</text>
<text x="234.51" y="348.50" font-size="10.2" fill="#69ab46" stroke="#69ab46" stroke-width="0.3" text-anchor="start" textLength="10.60" lengthAdjust="spacingAndGlyphs">29</text>
<text x="254.54" y="348.50" font-size="10.2" fill="#69ab46" stroke="#69ab46" stroke-width="0.3" text-anchor="start" textLength="10.60" lengthAdjust="spacingAndGlyphs">13</text>
<text x="274.57" y="348.50" font-size="10.2" fill="#69ab46" stroke="#69ab46" stroke-width="0.3" text-anchor="start" textLength="10.60" lengthAdjust="spacingAndGlyphs">10</text>
<text x="294.60" y="348.50" font-size="10.2" fill="#69ab46" stroke="#69ab46" stroke-width="0.3" text-anchor="start" textLength="10.60" lengthAdjust="spacingAndGlyphs">10</text>
<text x="314.63" y="348.50" font-size="10.2" fill="#69ab46" stroke="#69ab46" stroke-width="0.3" text-anchor="start" textLength="10.60" lengthAdjust="spacingAndGlyphs">10</text>
<text x="337.31" y="348.50" font-size="10.2" fill="#69ab46" stroke="#69ab46" stroke-width="0.3" text-anchor="start" textLength="5.30" lengthAdjust="spacingAndGlyphs">9</text>
<text x="357.34" y="348.50" font-size="10.2" fill="#69ab46" stroke="#69ab46" stroke-width="0.3" text-anchor="start" textLength="5.30" lengthAdjust="spacingAndGlyphs">4</text>
<text x="377.37" y="348.50" font-size="10.2" fill="#69ab46" stroke="#69ab46" stroke-width="0.3" text-anchor="start" textLength="5.30" lengthAdjust="spacingAndGlyphs">1</text>
<text x="94.30" y="363.00" font-size="10.2" fill="#32518a" stroke="#32518a" stroke-width="0.3" text-anchor="start" textLength="10.60" lengthAdjust="spacingAndGlyphs">11</text>
<text x="116.98" y="363.00" font-size="10.2" fill="#32518a" stroke="#32518a" stroke-width="0.3" text-anchor="start" textLength="5.30" lengthAdjust="spacingAndGlyphs">8</text>
<text x="137.01" y="363.00" font-size="10.2" fill="#32518a" stroke="#32518a" stroke-width="0.3" text-anchor="start" textLength="5.30" lengthAdjust="spacingAndGlyphs">8</text>
<text x="157.04" y="363.00" font-size="10.2" fill="#32518a" stroke="#32518a" stroke-width="0.3" text-anchor="start" textLength="5.30" lengthAdjust="spacingAndGlyphs">8</text>
<text x="177.07" y="363.00" font-size="10.2" fill="#32518a" stroke="#32518a" stroke-width="0.3" text-anchor="start" textLength="5.30" lengthAdjust="spacingAndGlyphs">7</text>
<text x="197.10" y="363.00" font-size="10.2" fill="#32518a" stroke="#32518a" stroke-width="0.3" text-anchor="start" textLength="5.30" lengthAdjust="spacingAndGlyphs">7</text>
<text x="217.13" y="363.00" font-size="10.2" fill="#32518a" stroke="#32518a" stroke-width="0.3" text-anchor="start" textLength="5.30" lengthAdjust="spacingAndGlyphs">5</text>
<text x="237.16" y="363.00" font-size="10.2" fill="#32518a" stroke="#32518a" stroke-width="0.3" text-anchor="start" textLength="5.30" lengthAdjust="spacingAndGlyphs">4</text>
<text x="257.19" y="363.00" font-size="10.2" fill="#32518a" stroke="#32518a" stroke-width="0.3" text-anchor="start" textLength="5.30" lengthAdjust="spacingAndGlyphs">4</text>
<text x="277.22" y="363.00" font-size="10.2" fill="#32518a" stroke="#32518a" stroke-width="0.3" text-anchor="start" textLength="5.30" lengthAdjust="spacingAndGlyphs">3</text>
<text x="297.25" y="363.00" font-size="10.2" fill="#32518a" stroke="#32518a" stroke-width="0.3" text-anchor="start" textLength="5.30" lengthAdjust="spacingAndGlyphs">2</text>
</svg>
<div style="position:absolute;left:0;top:0;width:2px;height:376px;background:#1c1c1c;border-left:1px solid #333;box-sizing:border-box;"></div>
<div style="position:absolute;right:0;top:0;width:2px;height:376px;background:#333;border-left:1px solid #1e1e1e;box-sizing:border-box;"></div>
<div style="position:absolute;left:0;bottom:0;width:520px;height:2px;background:#0a0a0a;border-top:1px solid #1c1c1c;box-sizing:border-box;"></div>
<div style="position:absolute;left:0;top:0;width:520px;height:2px;background:#060606;border-top:1px solid #5c5c5c;box-sizing:border-box;"></div>
</div></body></html>
